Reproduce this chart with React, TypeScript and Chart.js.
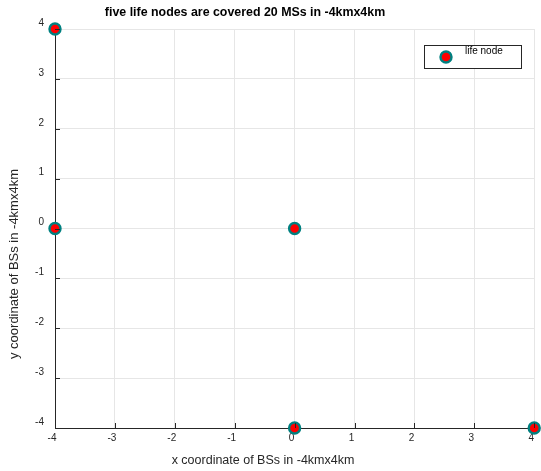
import React, { useEffect, useRef } from "react";
import { Chart, registerables } from "chart.js";

Chart.register(...registerables);

const TITLE = "five life nodes are covered 20 MSs in -4kmx4km";
const X_TITLE = "x coordinate of BSs in -4kmx4km";
const Y_TITLE = "y coordinate of BSs in -4kmx4km";
const SERIES_LABEL = "life node";
const X_VALUES = [-4, -4, 0, 0, 4];
const Y_VALUES = [4, 0, 0, -4, -4];
const AXIS_MIN = -4;
const AXIS_MAX = 4;

const FONT = "Arial, 'Liberation Sans', sans-serif";
const TEAL = "#008080";
const RED = "#ff0000";

const decorPlugin = {
  id: "decor",
  afterDraw(chart: any) {
    const ctx = chart.ctx as CanvasRenderingContext2D;
    const xs = chart.scales.x;
    const ys = chart.scales.y;
    const area = chart.chartArea;
    ctx.save();
    // inner tick marks
    ctx.strokeStyle = "#262626";
    ctx.lineWidth = 1;
    ctx.beginPath();
    xs.ticks.forEach((t: any) => {
      const px = Math.round(xs.getPixelForValue(t.value)) + 0.5;
      ctx.moveTo(px, area.bottom);
      ctx.lineTo(px, area.bottom - 5);
    });
    ys.ticks.forEach((t: any) => {
      const py = Math.round(ys.getPixelForValue(t.value)) + 0.5;
      ctx.moveTo(area.left, py);
      ctx.lineTo(area.left + 5, py);
    });
    ctx.stroke();

    // title
    ctx.fillStyle = "#000";
    ctx.textAlign = "center";
    ctx.textBaseline = "middle";
    ctx.font = `bold 12.4px ${FONT}`;
    ctx.fillText(TITLE, 245, 13);

    // axis titles
    ctx.fillStyle = "#262626";
    ctx.font = `12.5px ${FONT}`;
    ctx.fillText(X_TITLE, 263, 461);
    ctx.save();
    ctx.translate(14, 264);
    ctx.rotate(-Math.PI / 2);
    ctx.font = `13px ${FONT}`;
    ctx.fillText(Y_TITLE, 0, 0);
    ctx.restore();

    // legend
    const lx = 424.5, ly = 45.5, lw = 97, lh = 23;
    ctx.fillStyle = "#fff";
    ctx.fillRect(lx, ly, lw, lh);
    ctx.strokeStyle = "#262626";
    ctx.lineWidth = 1;
    ctx.strokeRect(lx, ly, lw, lh);
    ctx.beginPath();
    ctx.arc(446, 57, 5.5, 0, Math.PI * 2);
    ctx.fillStyle = RED;
    ctx.fill();
    ctx.lineWidth = 2.4;
    ctx.strokeStyle = TEAL;
    ctx.stroke();
    ctx.fillStyle = "#000";
    ctx.textAlign = "left";
    ctx.font = `10px ${FONT}`;
    ctx.fillText(chart.data.datasets[0].label, 465, 51);
    ctx.restore();
  },
};

export default function App() {
  const ref = useRef<HTMLCanvasElement>(null);
  useEffect(() => {
    const data = X_VALUES.map((x, i) => ({ x, y: Y_VALUES[i] }));
    const chart = new Chart(ref.current!, {
      type: "scatter",
      data: {
        datasets: [
          {
            label: SERIES_LABEL,
            data,
            backgroundColor: RED,
            borderColor: TEAL,
            borderWidth: 2.4,
            pointRadius: 5.5,
            clip: false as any,
          },
        ],
      },
      options: {
        responsive: false,
        animation: false,
        devicePixelRatio: 1,
        layout: { padding: { top: 29, right: 5, left: 0, bottom: 0 }, autoPadding: false },
        plugins: { legend: { display: false }, tooltip: { enabled: false }, title: { display: false } },
        scales: {
          x: {
            type: "linear",
            min: AXIS_MIN,
            max: AXIS_MAX,
            grid: { color: "#e6e6e6", drawTicks: false },
            border: { display: true, color: "#262626", width: 1 },
            ticks: {
              stepSize: 1,
              padding: 4,
              labelOffset: -3,
              color: "#262626",
              font: { family: FONT, size: 10 },
              maxRotation: 0,
            },
            afterFit(scale: any) {
              scale.height = 43;
            },
          },
          y: {
            type: "linear",
            min: AXIS_MIN,
            max: AXIS_MAX,
            grid: { color: "#e6e6e6", drawTicks: false },
            border: { display: true, color: "#262626", width: 1 },
            ticks: {
              stepSize: 1,
              padding: 11,
              labelOffset: -6,
              color: "#262626",
              font: { family: FONT, size: 10 },
            },
            afterFit(scale: any) {
              scale.width = 55;
            },
          },
        },
      },
      plugins: [decorPlugin],
    });
    return () => chart.destroy();
  }, []);
  return (
    <div style={{ position: "fixed", left: 0, top: 0, width: 541, height: 471, background: "#fff" }}>
      <canvas ref={ref} width={541} height={471} style={{ display: "block" }} />
    </div>
  );
}
